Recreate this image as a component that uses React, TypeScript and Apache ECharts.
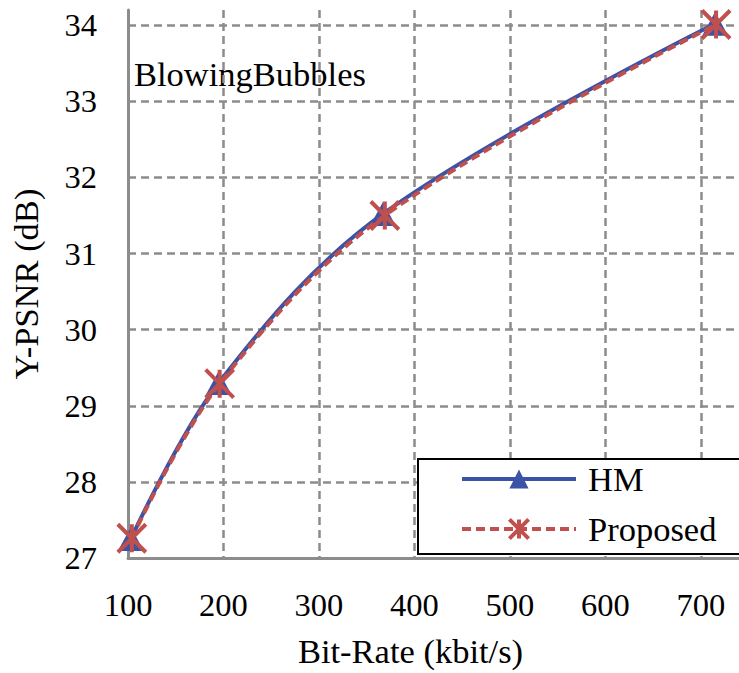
import React, { useEffect, useRef } from "react";
import * as echarts from "echarts";

const seriesNames = ["HM", "Proposed"];
const hmRate = [103, 195, 367, 715];
const hmPsnr = [27.25, 29.3, 31.52, 34.02];
const propRate = [104, 196, 369, 716];
const propPsnr = [27.26, 29.29, 31.5, 34.01];
const xTicks = [100, 200, 300, 400, 500, 600, 700];
const yTicks = [27, 28, 29, 30, 31, 32, 33, 34];
const sequenceName = "BlowingBubbles";

const FONT = "Liberation Serif";
const BLUE = "#3b52a6";
const RED = "#c0504d";
const GRID = "#8c8c8c";
const TICK_SIZE = 32.5;
const TITLE_SIZE = 34.5;

const starPath = "path://M0,0L10,10M10,0L0,10M5,0L5,10";

export default function App() {
  const ref = useRef<HTMLDivElement>(null);
  useEffect(() => {
    document.body.style.margin = "0";
    const chart = echarts.init(ref.current!, null, { renderer: "svg" });
    chart.setOption({
      animation: false,
      backgroundColor: "#ffffff",
      textStyle: { fontFamily: FONT },
      grid: { left: 124, right: 0, top: 10, bottom: 107, containLabel: false },
      xAxis: {
        type: "value",
        min: 100,
        max: 740,
        interval: 100,
        name: "Bit-Rate (kbit/s)",
        nameLocation: "middle",
        nameGap: 75,
        nameTextStyle: { fontFamily: FONT, fontSize: TITLE_SIZE, color: "#000", padding: [0, 46, 0, 0] },
        axisLine: { show: true, lineStyle: { color: GRID, width: 3 } },
        axisTick: { show: false },
        axisLabel: {
          fontFamily: FONT,
          fontSize: TICK_SIZE,
          color: "#000",
          margin: 30,
          showMaxLabel: false,
          formatter: (v: number) => (xTicks.includes(v) ? String(v) : ""),
        },
        splitLine: {
          show: true,
          showMinLine: false,
          showMaxLine: false,
          lineStyle: { color: GRID, width: 2.5, type: [8, 5] },
        },
      },
      yAxis: {
        type: "value",
        min: 27,
        max: 34.2,
        interval: 1,
        name: "Y-PSNR (dB)",
        nameLocation: "middle",
        nameGap: 85,
        nameRotate: 90,
        nameTextStyle: { fontFamily: FONT, fontSize: TITLE_SIZE, color: "#000" },
        axisLine: { show: true, lineStyle: { color: GRID, width: 3 } },
        axisTick: { show: false },
        axisLabel: {
          fontFamily: FONT,
          fontSize: TICK_SIZE,
          color: "#000",
          margin: 31,
          showMaxLabel: false,
          formatter: (v: number) => (yTicks.includes(v) ? String(v) : ""),
        },
        splitLine: {
          show: true,
          showMinLine: false,
          showMaxLine: false,
          lineStyle: { color: GRID, width: 2.5, type: [8, 5] },
        },
      },
      legend: {
        orient: "vertical",
        left: 418,
        top: 459,
        padding: [1, 30, 6, 42],
        itemWidth: 114,
        itemHeight: 24,
        itemGap: 12,
        borderColor: "#000",
        borderWidth: 2,
        borderRadius: 0,
        backgroundColor: "#fff",
        lineStyle: { width: 4 },
        textStyle: { fontFamily: FONT, fontSize: TITLE_SIZE, color: "#000", lineHeight: 38, padding: [0, 0, 0, 7] },
        data: [
          { name: seriesNames[0] },
          { name: seriesNames[1], itemStyle: { borderWidth: 4, borderColor: RED } },
        ],
      },
      graphic: [
        {
          type: "text",
          left: 134,
          top: 56,
          style: { text: sequenceName, fontFamily: FONT, fontSize: TITLE_SIZE, fill: "#000" },
        },
      ],
      series: [
        {
          name: seriesNames[0],
          type: "line",
          smooth: 0.35,
          data: hmRate.map((r, i) => [r, hmPsnr[i]]),
          symbol: "triangle",
          symbolSize: [26, 24],
          lineStyle: { color: BLUE, width: 4 },
          itemStyle: { color: BLUE },
          z: 2,
        },
        {
          name: seriesNames[1],
          type: "line",
          smooth: 0.35,
          data: propRate.map((r, i) => [r, propPsnr[i]]),
          symbol: starPath,
          symbolSize: 28,
          lineStyle: { color: RED, width: 4, type: [9, 5] },
          itemStyle: { color: RED, borderColor: RED, borderWidth: 4 },
          z: 3,
        },
      ],
    });
    return () => chart.dispose();
  }, []);
  return <div ref={ref} style={{ width: 739, height: 673 }} />;
}
